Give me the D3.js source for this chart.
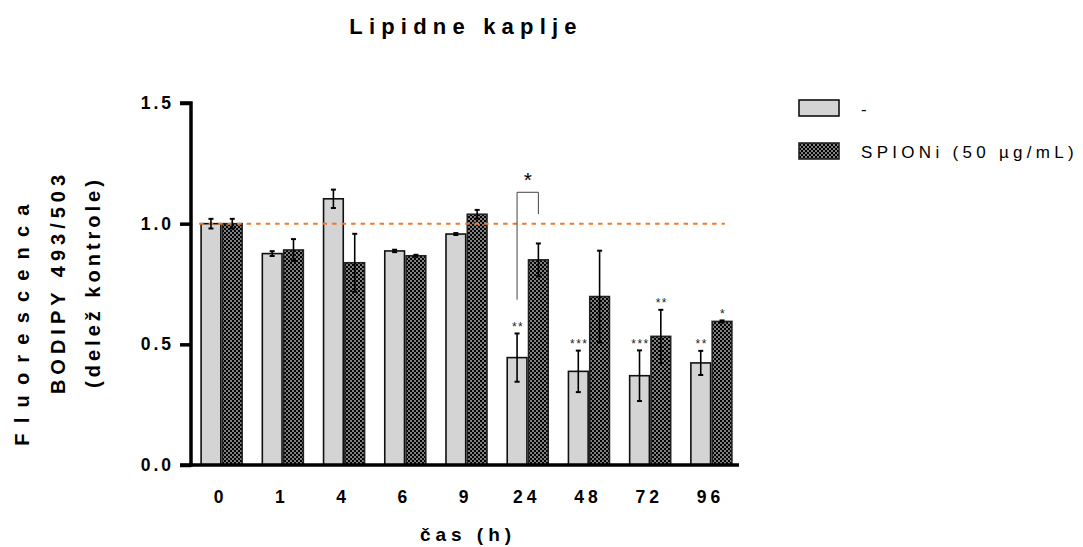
<!DOCTYPE html>
<html><head><meta charset="utf-8">
<script src="https://cdn.jsdelivr.net/npm/d3@7"></script>
<style>body{margin:0;background:#fff;} svg{display:block;font-family:Arial,"Liberation Sans",sans-serif;}</style>
</head><body><svg id="c" width="1083" height="547"></svg>
<script>
const categories = ["0","1","4","6","9","24","48","72","96"];
const seriesNames = ["-","SPIONi (50 \u00b5g/mL)"];
const controlMean = [1.00,0.876,1.103,0.887,0.957,0.445,0.388,0.370,0.423];
const controlErr  = [0.02,0.01,0.038,0.005,0.004,0.10,0.086,0.105,0.05];
const spionMean   = [1.00,0.891,0.838,0.867,1.039,0.850,0.698,0.533,0.595];
const spionErr    = [0.02,0.045,0.12,0.004,0.018,0.068,0.19,0.11,0.004];
const controlStars = ["","","","","","**","***","***","**"];
const spionStars   = ["","","","","","","","**","*"];
const yTicks = [0,0.5,1.0,1.5];
const refLine = 1.0;
const bracket = {cat:"24", left:0.685, top:1.13, right:1.04, label:"*"};

const svg = d3.select("#c");
const defs = svg.append("defs");
const pat = defs.append("pattern").attr("id","chk").attr("patternUnits","userSpaceOnUse")
  .attr("width",4).attr("height",4);
pat.append("rect").attr("width",4).attr("height",4).attr("fill","#808080");
pat.append("rect").attr("width",2).attr("height",2).attr("fill","#000");
pat.append("rect").attr("x",2).attr("y",2).attr("width",2).attr("height",2).attr("fill","#000");

const x = d3.scaleBand().domain(categories).range([191,742]).paddingInner(0.33).paddingOuter(0.165);
const xs = d3.scaleBand().domain([0,1]).range([0,x.bandwidth()]).paddingInner(0.075);
const y = d3.scaleLinear().domain([0,1.5]).range([465,103]);

const data = categories.map((c,i)=>[
  {c, s:0, v:controlMean[i], e:controlErr[i], star:controlStars[i]},
  {c, s:1, v:spionMean[i], e:spionErr[i], star:spionStars[i]}
]).flat();

const g = svg.append("g");
g.selectAll("rect.bar").data(data).join("rect")
  .attr("x",d=>x(d.c)+xs(d.s)).attr("y",d=>y(d.v))
  .attr("width",xs.bandwidth()).attr("height",d=>y(0)-y(d.v))
  .attr("fill",d=>d.s===0?"#d4d4d4":"url(#chk)")
  .attr("stroke",d=>d.s===0?"#111":"#222").attr("stroke-width",1.6);

g.append("line").attr("x1",x(categories[0])-2).attr("x2",x(categories[categories.length-1])+x.bandwidth()-7)
  .attr("y1",y(refLine)).attr("y2",y(refLine))
  .attr("stroke","#f07a2a").attr("stroke-width",2).attr("stroke-dasharray","4.5,5");

const cx = d=>x(d.c)+xs(d.s)+xs.bandwidth()/2;
const eb = g.append("g").attr("stroke","#000");
eb.selectAll("line.v").data(data).join("line")
  .attr("x1",cx).attr("x2",cx).attr("y1",d=>y(d.v+d.e)).attr("y2",d=>y(d.v-d.e)).attr("stroke-width",1.6);
eb.selectAll("line.t").data(data).join("line")
  .attr("x1",d=>cx(d)-2.5).attr("x2",d=>cx(d)+2.5).attr("y1",d=>y(d.v+d.e)).attr("y2",d=>y(d.v+d.e)).attr("stroke-width",2);
eb.selectAll("line.b").data(data).join("line")
  .attr("x1",d=>cx(d)-2.5).attr("x2",d=>cx(d)+2.5).attr("y1",d=>y(d.v-d.e)).attr("y2",d=>y(d.v-d.e)).attr("stroke-width",2);

g.selectAll("text.star").data(data.filter(d=>d.star)).join("text")
  .attr("x",d=>cx(d)+1).attr("y",d=>y(d.v+d.e)-2.5)
  .attr("text-anchor","middle").attr("font-size",12).attr("letter-spacing",1.5)
  .attr("fill","#222").text(d=>d.star);

const bl = cx({c:bracket.cat,s:0}), br = cx({c:bracket.cat,s:1});
g.append("path").attr("fill","none").attr("stroke","#444").attr("stroke-width",1)
  .attr("d",`M${bl},${y(bracket.left)}V${y(bracket.top)}H${br}V${y(bracket.right)}`);
g.append("text").attr("x",(bl+br)/2).attr("y",y(bracket.top)-5).attr("text-anchor","middle")
  .attr("font-size",21).attr("fill","#000").text(bracket.label);

const FF = "Arial,'Liberation Sans',sans-serif";
const yAxis = d3.axisLeft(y).tickValues(yTicks).tickFormat(d3.format(".1f")).tickSize(11).tickPadding(6);
const ya = svg.append("g").attr("transform","translate(191,0)").call(yAxis);
ya.select(".domain").attr("stroke","#000").attr("stroke-width",3.5).attr("d",`M-11,${y(1.5)}H0V${y(0)}H-11`);
ya.selectAll(".tick line").attr("stroke","#000").attr("stroke-width",3.5);
ya.selectAll(".tick text").attr("font-size",17.5).attr("font-weight","bold").attr("letter-spacing",3)
  .attr("font-family",FF).attr("fill","#000");

const xAxis = d3.axisBottom(x).tickSize(0).tickPadding(26);
const xa = svg.append("g").attr("transform",`translate(0,${y(0)})`).call(xAxis);
xa.select(".domain").attr("stroke","#000").attr("stroke-width",3.5).attr("d","M189.3,0H739");
xa.selectAll(".tick text").attr("font-size",17.5).attr("font-weight","bold").attr("letter-spacing",4)
  .attr("font-family",FF).attr("fill","#000").attr("dx",-1);

svg.append("text").attr("x",466).attr("y",34).attr("text-anchor","middle")
  .attr("font-size",22).attr("font-weight","bold").attr("letter-spacing",6.2).text("Lipidne kaplje");
svg.append("text").attr("x",468).attr("y",541).attr("text-anchor","middle")
  .attr("font-size",19).attr("font-weight","bold").attr("letter-spacing",5).text("\u010das (h)");
const yTitle = [["Fluorescenca",29,320,10.2],["BODIPY 493/503",65,282,5],["(dele\u017e kontrole)",100,282,4]];
yTitle.forEach(([t,xx,yy,ls])=>{
  svg.append("text").attr("transform",`translate(${xx},${yy}) rotate(-90)`).attr("text-anchor","middle")
    .attr("font-size",20).attr("font-weight","bold").attr("letter-spacing",ls).text(t);
});

const lg = svg.append("g").attr("transform","translate(799,0)");
seriesNames.forEach((n,i)=>{
  const yy = [100,143][i];
  lg.append("rect").attr("x",0).attr("y",yy).attr("width",40).attr("height",16)
    .attr("fill",i===0?"#d4d4d4":"url(#chk)").attr("stroke",i===0?"#111":"#222").attr("stroke-width",1.6);
  lg.append("text").attr("x",62).attr("y",yy+15).attr("font-size",17).attr("letter-spacing",4.3)
    .attr("fill","#000").text(n);
});
</script></body></html>
